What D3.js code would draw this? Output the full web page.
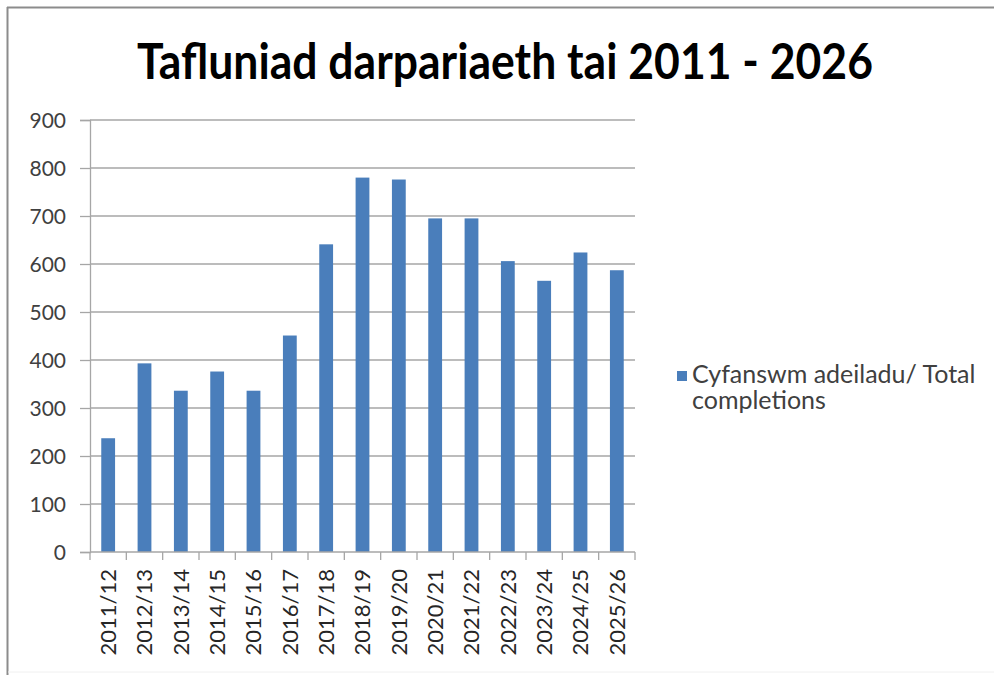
<!DOCTYPE html>
<html>
<head>
<meta charset="utf-8">
<script src="https://cdn.jsdelivr.net/npm/d3@7/dist/d3.min.js"></script>
<style>
  html, body { margin: 0; padding: 0; background: #fff; }
  svg { display: block; }
  text { font-family: Lato, Carlito, "Open Sans", sans-serif; }
</style>
</head>
<body>
<svg id="chart" width="994" height="675"></svg>
<script>
const categories = ["2011/12","2012/13","2013/14","2014/15","2015/16","2016/17","2017/18","2018/19","2019/20","2020/21","2021/22","2022/23","2023/24","2024/25","2025/26"];
const completions = [237, 393, 336, 376, 336, 451, 641, 780, 776, 695, 695, 606, 565, 624, 587];
const yTicks = [0, 100, 200, 300, 400, 500, 600, 700, 800, 900];
const titleText = "Tafluniad darpariaeth tai 2011 - 2026";
const legendLines = ["Cyfanswm adeiladu/ Total", "completions"];

const svg = d3.select("#chart");
const W = 994, H = 675;
const m = { left: 90, right: 635, top: 120, bottom: 552 };

// frame
svg.append("rect").attr("x", 0).attr("y", 0).attr("width", W).attr("height", H).attr("fill", "#fff");
svg.append("line").attr("x1", 7).attr("x2", W).attr("y1", 7.5).attr("y2", 7.5).attr("stroke", "#8c8c8c").attr("stroke-width", 2);
svg.append("line").attr("x1", 7.5).attr("x2", 7.5).attr("y1", 7).attr("y2", H).attr("stroke", "#8c8c8c").attr("stroke-width", 2);
svg.append("line").attr("x1", 8).attr("x2", W).attr("y1", 672).attr("y2", 672).attr("stroke", "#f0f0f0").attr("stroke-width", 1);

const x = d3.scaleBand().domain(categories).range([m.left, m.right]).paddingInner(0.62).paddingOuter(0.31);
const y = d3.scaleLinear().domain([0, 900]).range([m.bottom, m.top]);

// gridlines
svg.append("g").selectAll("line").data(yTicks.filter(d => d > 0)).join("line")
  .attr("x1", m.left).attr("x2", m.right)
  .attr("y1", d => y(d)).attr("y2", d => y(d))
  .attr("stroke", "#a6a6a6").attr("stroke-width", 1.3);

// bars
svg.append("g").selectAll("rect").data(completions).join("rect")
  .attr("x", (d, i) => x(categories[i]))
  .attr("width", x.bandwidth())
  .attr("y", d => y(d))
  .attr("height", d => y(0) - y(d))
  .attr("fill", "#4a7ebb");

// y axis
const yAxis = svg.append("g").attr("transform", `translate(${m.left},0)`)
  .call(d3.axisLeft(y).tickValues(yTicks).tickSize(10).tickPadding(0).tickFormat(d3.format("d")));
yAxis.select(".domain").attr("stroke", "#a6a6a6").attr("stroke-width", 1.3);
yAxis.selectAll(".tick line").attr("stroke", "#a6a6a6").attr("stroke-width", 1.3);
yAxis.selectAll(".tick text").remove();
yAxis.selectAll(".tick").append("text")
  .attr("x", -24)
  .attr("text-anchor", "end").attr("dy", "0.36em")
  .attr("fill", "#404040").style("font-size", "21px")
  .text(d => d);

// x axis
const xAxis = svg.append("g").attr("transform", `translate(0,${m.bottom})`);
xAxis.append("line").attr("x1", m.left).attr("x2", m.right).attr("y1", 0).attr("y2", 0)
  .attr("stroke", "#a6a6a6").attr("stroke-width", 1.3);
const step = x.step();
const boundaries = d3.range(categories.length + 1).map(i => m.left + i * step);
xAxis.selectAll("line.tk").data(boundaries).join("line").attr("class", "tk")
  .attr("x1", d => d).attr("x2", d => d).attr("y1", 0).attr("y2", 8)
  .attr("stroke", "#a6a6a6").attr("stroke-width", 1.3);
xAxis.selectAll("text").data(categories).join("text")
  .attr("transform", d => `translate(${x(d) + x.bandwidth() / 2},17) rotate(-90)`)
  .attr("text-anchor", "end").attr("dy", "0.36em")
  .attr("fill", "#262626").style("font-size", "22px")
  .text(d => d);

// title
svg.append("text")
  .attr("transform", `translate(505,79) scale(1,1.12)`)
  .attr("text-anchor", "middle")
  .attr("fill", "#000").style("font-size", "44.5px").style("font-weight", "bold")
  .text(titleText);

// legend
svg.append("rect").attr("x", 677).attr("y", 371).attr("width", 10).attr("height", 10).attr("fill", "#4a7ebb");
legendLines.forEach((t, i) => {
  svg.append("text")
    .attr("x", 692).attr("y", 383 + i * 26)
    .attr("fill", "#404040").style("font-size", "25px")
    .text(t);
});
</script>
</body>
</html>
